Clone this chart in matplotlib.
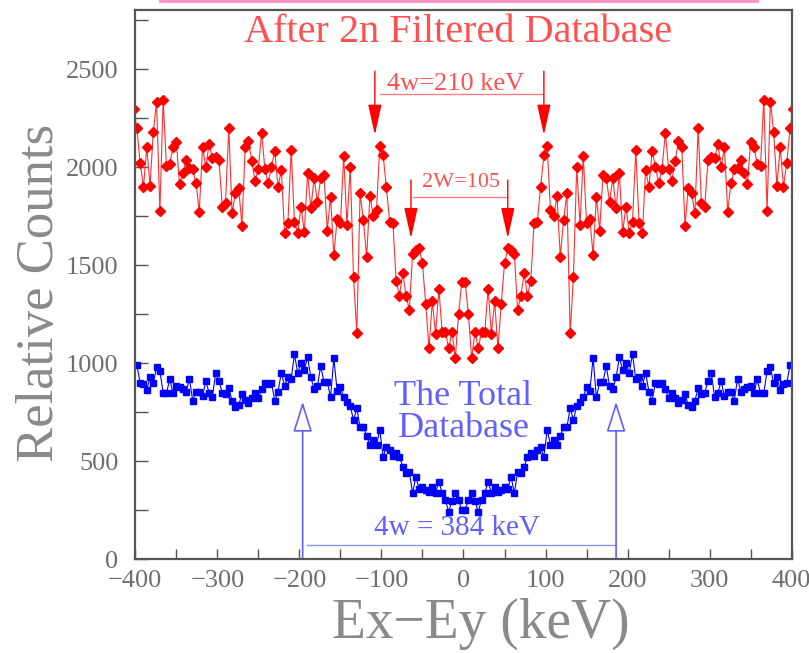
import numpy as np
import matplotlib.pyplot as plt
from matplotlib.ticker import MultipleLocator
from matplotlib.lines import Line2D

# ---- data (4 keV bins) ----
# red: after 2n filter, bins -402 .. 402 (the outer bins sit on the frame)
red_x = np.arange(-402, 403, 4)
red_counts = [
    2297,
    2198, 2020, 1901, 2102, 1905, 2182, 2335, 1777, 2343, 2007,
    2017, 2102, 2131, 1913, 1972, 2037, 1995, 1990, 1918, 1774,
    2102, 2000, 2119, 2046, 2054, 2037, 1799, 1816, 2199, 1765,
    1867, 1896, 1702, 2105, 2136, 2034, 1930, 1991, 2177, 1991,
    1918, 2003, 2083, 1898, 1986, 1663, 1714, 2088, 1723, 1666,
    1799, 1671, 1969, 1791, 1944, 1825, 1944, 1961, 1677, 1850,
    1552, 1734, 1714, 2058, 1706, 2003, 1438, 1153, 1867,
    1731, 1544, 1854, 1751, 1782, 2109,
    2063, 1901, 1723, 1714, 1420, 1345, 1460, 1345, 1272, 1556,
    1578, 1587, 1510, 1300, 1076, 1316, 1150, 1380, 1161, 1161,
    1076, 1161, 1025, 1250, 1416,
    1416, 1250, 1025, 1161, 1076,
    1161, 1161, 1380, 1150, 1316, 1076, 1300, 1510, 1587, 1578,
    1556, 1272, 1345, 1460, 1345, 1420, 1714, 1723, 1901, 2063,
    2109, 1782, 1751, 1854, 1544, 1731,
    1867, 1153, 1438, 2003, 1706, 2058, 1714, 1734, 1552,
    1850, 1677, 1961, 1944, 1825, 1944, 1791, 1969, 1671, 1799,
    1666, 1723, 2088, 1714, 1663, 1986, 1898, 2083, 2003, 1918,
    1991, 2177, 1991, 1930, 2034, 2136, 2105, 1702, 1896, 1867,
    1765, 2199, 1816, 1799, 2037, 2054, 2046, 2119, 2000, 2102,
    1774, 1918, 1990, 1995, 2037, 1972, 1913, 2131, 2102, 2017,
    2007, 2343, 1777, 2335, 2182, 1905, 2102, 1901, 2020, 2198,
    2297]

# blue: the total database, bins -398 .. 398
blue_x = np.arange(-398, 399, 4)
blue_counts = [
    991, 898, 894, 864, 928, 898, 979, 962, 847, 847,
    918, 847, 884, 877, 867, 854, 922, 809, 854, 854,
    833, 908, 850, 830, 949, 911, 850, 843, 872, 809,
    779, 786, 843, 813, 799, 821, 847, 821, 867, 898,
    894, 901, 809, 855, 952, 884, 928, 918, 1047, 949,
    1003, 966, 1030, 928, 867, 884, 986, 906, 906, 826,
    1027, 860, 877, 826, 804, 782, 711, 770, 673,
    677, 629, 583, 609, 583, 660, 524, 571, 558, 527,
    541, 524, 473, 439, 447, 337, 422, 357, 371, 354,
    345, 371, 340, 396, 337, 303, 243, 299, 337, 303, 252,
    252, 303, 337, 299, 243, 303, 337, 396, 340, 371, 345,
    354, 371, 357, 422, 337, 447, 439, 473, 524, 541,
    527, 558, 571, 524, 660, 583, 609, 583, 629, 677,
    673, 770, 711, 782, 804, 826, 877, 860, 1027,
    826, 906, 906, 986, 884, 867, 928, 1030, 966, 1003,
    949, 1047, 918, 928, 884, 952, 855, 809, 901, 894,
    898, 867, 821, 847, 821, 799, 813, 843, 786, 779,
    809, 872, 843, 850, 911, 949, 830, 850, 908, 833,
    854, 854, 809, 922, 854, 867, 877, 884, 847, 918,
    847, 847, 962, 979, 898, 928, 864, 894, 898, 991]

RED = '#ff0000'
BLUE = '#0000ff'
LBLUE = '#6060ff'
GREY = '#6e6e6e'
SERIF = ['Liberation Serif', 'DejaVu Serif']

fig = plt.figure(figsize=(8.09, 6.53), dpi=100)
ax = fig.add_axes([0.1672, 0.1435, 0.8114, 0.8405])

ax.plot(red_x, red_counts, color='#ff3030', lw=0.8, marker='D', ms=4.6,
        mfc=RED, mec=RED)
ax.plot(blue_x, blue_counts, color=BLUE, lw=0.8, marker='s', ms=4.6,
        mfc=BLUE, mec=BLUE)

ax.set_xlim(-400, 400)
ax.set_ylim(0, 2800)

# ---- red arrows (4w and 2W) ----
red_arrow = dict(arrowstyle='-|>,head_length=1.9,head_width=0.42',
                 color=RED, lw=1.0, mutation_scale=10,
                 shrinkA=0, shrinkB=0)
for xa in (-108, 98):
    ax.annotate('', xy=(xa, 2165), xytext=(xa, 2490), arrowprops=red_arrow)
ax.plot([-102, 97], [2372, 2372], color='#ff8080', lw=1.0)
ax.text(-10, 2425, '4w=210 keV', color='#ff5050', fontsize=19,
        family=SERIF, ha='center', va='center')

for xa in (-64, 54):
    ax.annotate('', xy=(xa, 1638), xytext=(xa, 1935), arrowprops=red_arrow)
ax.plot([-61, 53], [1850, 1850], color='#ff8080', lw=1.0)
ax.text(-3, 1922, '2W=105', color='#ff5050', fontsize=16,
        family=SERIF, ha='center', va='center')

ax.text(-7, 2688, 'After 2n Filtered Database', color='#ff5050',
        fontsize=29, family=SERIF, ha='center', va='center')

# ---- blue arrows ----
blue_arrow = dict(arrowstyle='-|>,head_length=1.9,head_width=0.6',
                  color=LBLUE, fc='white', lw=1.2, mutation_scale=10,
                  shrinkA=0, shrinkB=0)
for xa in (-196, 186):
    ax.annotate('', xy=(xa, 804), xytext=(xa, 10), arrowprops=blue_arrow)
ax.plot([-191, 186], [73, 73], color='#9090ff', lw=1.0)
ax.text(-8, 160, '4w = 384 keV', color=LBLUE, fontsize=21,
        family=SERIF, ha='center', va='center')
ax.text(0, 830, 'The Total', color=LBLUE, fontsize=26,
        family=SERIF, ha='center', va='center')
ax.text(0, 668, 'Database', color=LBLUE, fontsize=26,
        family=SERIF, ha='center', va='center')

# ---- axes styling ----
ax.xaxis.set_major_locator(MultipleLocator(100))
ax.xaxis.set_minor_locator(MultipleLocator(50))
ax.yaxis.set_major_locator(MultipleLocator(500))
ax.yaxis.set_minor_locator(MultipleLocator(250))
ax.tick_params(axis='both', which='both', direction='in', color='#555555')
ax.tick_params(axis='x', which='both', length=7, width=1, pad=8)
ax.tick_params(axis='y', which='both', length=9, width=1, pad=12)
for lab in ax.get_xticklabels() + ax.get_yticklabels():
    lab.set_family(SERIF)
    lab.set_fontsize(19)
    lab.set_color(GREY)
for sp in ax.spines.values():
    sp.set_color('#555555')
    sp.set_linewidth(1.6)

fig.text(40 / 809, 1 - 293 / 653, 'Relative Counts', rotation=90,
         color='#8a8a8a', fontsize=38, family=SERIF, ha='center', va='center')
fig.text(481 / 809, 1 - 624 / 653, 'Ex\u2212Ey (keV)', color='#8a8a8a',
         fontsize=40, family=SERIF, ha='center', va='center')

# pink edge of the title box, cut by the frame
fig.add_artist(Line2D([160 / 809, 757 / 809], [0.998, 0.998],
                      color='#ff8fc0', lw=2))

fig.savefig('out.png', dpi=100)
